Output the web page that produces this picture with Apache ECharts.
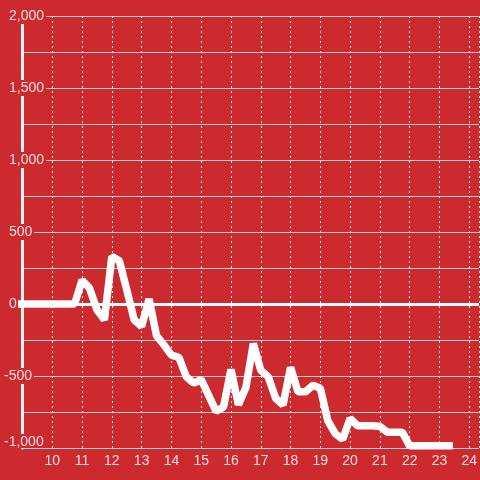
<!DOCTYPE html>
<html>
<head>
<meta charset="utf-8">
<script src="https://cdn.jsdelivr.net/npm/echarts@6/dist/echarts.min.js"></script>
<style>
html,body{margin:0;padding:0;background:#cd2a2f;}
#chart{width:480px;height:480px;}
</style>
</head>
<body>
<div id="chart"></div>
<script>
// x positions (hour of day)
var hours = [8.75, 9, 9.25, 9.5, 9.75, 10, 10.25, 10.5, 10.75,
  11, 11.25, 11.5, 11.75, 12, 12.25, 12.5, 12.75, 13, 13.25, 13.5, 13.75,
  14, 14.25, 14.5, 14.75, 15, 15.25, 15.5, 15.75, 16, 16.25, 16.5, 16.75,
  17, 17.25, 17.5, 17.75, 18, 18.25, 18.5, 18.75, 19, 19.25, 19.5, 19.75,
  20, 20.25, 20.5, 20.75, 21, 21.25, 21.5, 21.75, 22, 22.25, 22.5, 22.75,
  23, 23.25, 23.45];
var values = [0, 0, 0, 0, 0, 0, 0, 0, 0,
  165, 110, -40, -110, 330, 300, 100, -110, -155, 35, -220, -285,
  -355, -370, -505, -550, -525, -635, -745, -715, -455, -700, -580, -275,
  -460, -505, -655, -700, -440, -610, -610, -565, -585, -810, -900, -940,
  -795, -845, -845, -845, -850, -890, -890, -890, -985, -985, -985, -985,
  -985, -985, -985];
var xTickLabels = ['10','11','12','13','14','15','16','17','18','19','20','21','22','23','24'];
var yTickValues = [-1000, -500, 0, 500, 1000, 1500, 2000];
var yTickLabels = ['-1,000','-500','0','500','1,000','1,500','2,000'];

var BG = '#cd2a2f';
var TXT = '#f7dfdf';
var FONT = 'Liberation Sans';

var points = hours.map(function (h, i) { return [h, values[i]]; });

function yLabelFor(test) {
  return function (v) {
    var i = yTickValues.indexOf(Math.round(v));
    if (i < 0 || !test(yTickValues[i])) return '';
    return yTickLabels[i];
  };
}
function xLabel(v) {
  if (Math.abs(v - Math.round(v)) > 1e-6) return '';
  var s = String(Math.round(v));
  return xTickLabels.indexOf(s) >= 0 ? s : '';
}

var chart = echarts.init(document.getElementById('chart'));
var xCommon = { type: 'value', min: 9, max: 24.32, interval: 1, position: 'bottom' };
var yCommon = { type: 'value', min: -1000, max: 2000, interval: 500, position: 'left' };
function labelAxis(extra, label) {
  return Object.assign({}, yCommon, {
    z: 3,
    axisLine: { show: false }, axisTick: { show: false }, splitLine: { show: false },
    axisLabel: Object.assign({
      show: true, align: 'left', color: TXT, fontFamily: FONT, fontSize: 14,
      backgroundColor: BG
    }, label)
  }, extra);
}
chart.setOption({
  backgroundColor: BG,
  animation: false,
  grid: { left: 20.5, right: 0, top: 16, bottom: 32 },
  xAxis: [
    Object.assign({}, xCommon, {
      axisLine: { show: false }, axisTick: { show: false }, axisLabel: { show: false },
      splitLine: { show: true, lineStyle: { color: '#eeeeee', width: 1, type: [2, 3] } }
    }),
    Object.assign({}, xCommon, {
      z: 5,
      axisLine: { show: false }, axisTick: { show: false }, splitLine: { show: false },
      axisLabel: { show: true, margin: 6, color: TXT, fontFamily: FONT, fontSize: 14,
        showMinLabel: false, showMaxLabel: false, formatter: xLabel }
    })
  ],
  yAxis: [
    Object.assign({}, yCommon, {
      axisLine: { show: false }, axisTick: { show: false }, axisLabel: { show: false },
      splitLine: { show: true, lineStyle: { color: '#d2d2d2', width: 1 } },
      minorTick: { show: false, splitNumber: 2 },
      minorSplitLine: { show: true, lineStyle: { color: '#d2d2d2', width: 1 } }
    }),
    // axis line + non-negative labels
    labelAxis({ axisLine: { show: true, lineStyle: { color: '#f2f2f2', width: 3 } } },
      { margin: 14.5, padding: [1, 2, 1, 1], showMinLabel: false,
        formatter: yLabelFor(function (v) { return v >= 0; }) }),
    // -500 label
    labelAxis({}, { margin: 19.5, padding: [1, 2, 1, 1], showMinLabel: false,
      formatter: yLabelFor(function (v) { return v === -500; }) }),
    // -1,000 label (sits a little higher)
    labelAxis({ z: 4, interval: 3000 }, { margin: 19.5, padding: [3, 6, 1, 1],
      verticalAlign: 'bottom', lineHeight: 10, showMaxLabel: false,
      formatter: yLabelFor(function (v) { return v === -1000; }) })
  ],
  series: [{
    type: 'line',
    xAxisIndex: 0,
    yAxisIndex: 0,
    data: points,
    showSymbol: false,
    clip: false,
    lineStyle: { color: '#ffffff', width: 7.5 },
    markLine: {
      silent: true,
      symbol: 'none',
      label: { show: false },
      lineStyle: { color: '#ffffff', width: 3, type: 'solid' },
      data: [{ yAxis: 0 }]
    }
  }]
});
</script>
</body>
</html>
